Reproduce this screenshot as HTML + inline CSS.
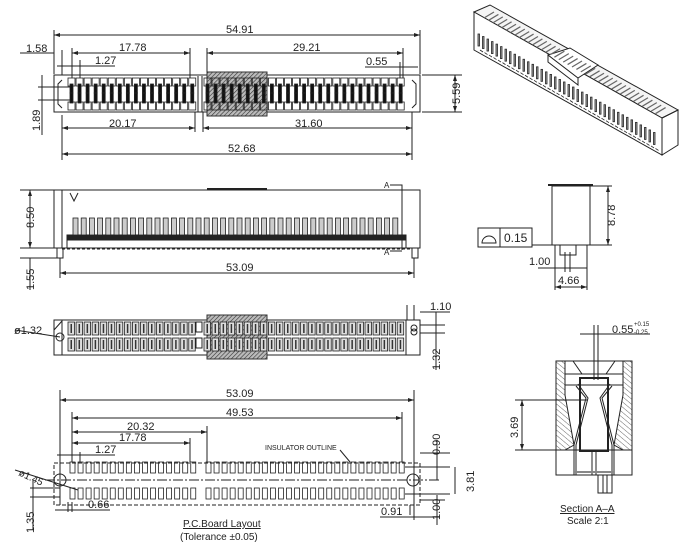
<!DOCTYPE html>
<html><head><meta charset="utf-8"><style>
html,body{margin:0;padding:0;background:#fff}
svg{display:block}
text{font-family:"Liberation Sans",sans-serif;fill:#222}
</style></head><body>
<svg id="s" width="691" height="546" viewBox="0 0 691 546" xmlns="http://www.w3.org/2000/svg">
<defs>
<pattern id="h" width="3" height="3" patternUnits="userSpaceOnUse" patternTransform="rotate(45)"><rect width="3" height="3" fill="#bbb"/><line x1="0" y1="0" x2="0" y2="3" stroke="#333" stroke-width="1.2"/></pattern>
<pattern id="h2" width="4" height="4" patternUnits="userSpaceOnUse" patternTransform="rotate(-50)"><line x1="0" y1="0" x2="0" y2="4" stroke="#444" stroke-width="0.8"/></pattern>
<marker id="a" markerWidth="6" markerHeight="4" refX="6" refY="2" orient="auto-start-reverse"><path d="M0,0 L6,2 L0,4z" fill="#222"/></marker>
</defs>
<g id="g" stroke="#222" fill="none" stroke-width="1" font-size="11">

<!-- TOP VIEW -->
<rect x="54" y="75" width="366" height="37"/>
<path d="M62,80 L58,84 L58,104 L62,108 M412,80 L416,84 L416,104 L412,108"/>
<rect x="207" y="72" width="60" height="44" fill="url(#h)" stroke="#333"/>
<line x1="198" y1="76" x2="198" y2="112"/><line x1="202" y1="76" x2="202" y2="112"/>

<line x1="54" y1="35" x2="420" y2="35" marker-start="url(#a)" marker-end="url(#a)"/>
<line x1="54" y1="30" x2="54" y2="74"/><line x1="420" y1="30" x2="420" y2="74"/>
<line x1="62" y1="50" x2="62" y2="75"/><line x1="72" y1="48" x2="72" y2="78"/><line x1="80" y1="60" x2="80" y2="78"/>
<line x1="72" y1="53" x2="190" y2="53" marker-start="url(#a)" marker-end="url(#a)"/>
<line x1="190" y1="48" x2="190" y2="78"/>
<line x1="207" y1="53" x2="403" y2="53" marker-start="url(#a)" marker-end="url(#a)"/>
<line x1="207" y1="48" x2="207" y2="72"/><line x1="403" y1="48" x2="403" y2="78"/><line x1="400" y1="62" x2="400" y2="78"/>
<line x1="20" y1="53" x2="54" y2="53"/><line x1="57" y1="66" x2="115" y2="66"/>
<line x1="365" y1="67" x2="418" y2="67"/>
<line x1="422" y1="75" x2="462" y2="75"/><line x1="422" y1="112" x2="462" y2="112"/>
<line x1="455" y1="75" x2="455" y2="112" marker-start="url(#a)" marker-end="url(#a)"/>
<line x1="38" y1="87" x2="70" y2="87"/><line x1="38" y1="100" x2="70" y2="100"/>
<line x1="42" y1="75" x2="42" y2="135"/>
<line x1="62" y1="115" x2="62" y2="160"/><line x1="412" y1="112" x2="412" y2="160"/>
<line x1="195" y1="112" x2="195" y2="132"/><line x1="203" y1="112" x2="203" y2="132"/>
<line x1="62" y1="128" x2="195" y2="128" marker-start="url(#a)" marker-end="url(#a)"/>
<line x1="203" y1="128" x2="412" y2="128" marker-start="url(#a)" marker-end="url(#a)"/>
<line x1="62" y1="154" x2="412" y2="154" marker-start="url(#a)" marker-end="url(#a)"/>
<g stroke="none">
<text x="226" y="33">54.91</text><text x="26" y="52">1.58</text><text x="119" y="51">17.78</text>
<text x="293" y="51">29.21</text><text x="95" y="64">1.27</text><text x="366" y="65">0.55</text>
<text x="109" y="127">20.17</text><text x="295" y="127">31.60</text><text x="228" y="152">52.68</text>
<text transform="translate(460,104) rotate(-90)">5.59</text><text transform="translate(40,131) rotate(-90)">1.89</text>
</g>

<!-- SIDE VIEW -->
<rect x="54" y="190" width="366" height="58"/>
<line x1="62" y1="190" x2="62" y2="248"/>
<line x1="207" y1="189" x2="267" y2="189" stroke-width="2"/>
<path d="M70,193 L74,201 L78,193"/>
<rect x="67" y="235" width="339" height="5" fill="#222"/>
<line x1="406" y1="240" x2="406" y2="248"/><line x1="67" y1="240" x2="67" y2="248"/>
<line x1="62" y1="249" x2="410" y2="249" stroke-dasharray="3,2"/>
<rect x="57" y="248" width="6" height="10"/><rect x="412" y="248" width="6" height="10"/>
<path d="M390,185 L402,185 L402,250 M390,251 L402,251" />
<line x1="20" y1="190" x2="54" y2="190"/><line x1="20" y1="248" x2="54" y2="248"/>
<line x1="20" y1="258" x2="57" y2="258"/>
<line x1="30" y1="190" x2="30" y2="248" marker-start="url(#a)" marker-end="url(#a)"/>
<line x1="30" y1="258" x2="30" y2="290"/>
<line x1="60" y1="258" x2="60" y2="278"/><line x1="414" y1="258" x2="414" y2="278"/>
<line x1="60" y1="273" x2="414" y2="273" marker-start="url(#a)" marker-end="url(#a)"/>
<g stroke="none" font-size="8"><text x="384" y="188">A</text><text x="384" y="255">A</text></g>
<g stroke="none"><text x="226" y="271">53.09</text>
<text transform="translate(34,228) rotate(-90)">8.50</text><text transform="translate(34,290) rotate(-90)">1.55</text></g>

<!-- BOTTOM VIEW -->
<rect x="54" y="320" width="366" height="35"/>
<rect x="207" y="315" width="60" height="44" fill="url(#h)" stroke="#333"/>
<path d="M54,330 L62,321 M406,320 L406,355 M62,320 L62,355"/>
<circle cx="60" cy="337" r="4"/><circle cx="414" cy="328" r="3"/><circle cx="414" cy="332" r="3"/>
<rect x="196" y="322" width="6" height="10"/><rect x="196" y="338" width="6" height="10"/>
<line x1="420" y1="312" x2="450" y2="312"/><line x1="420" y1="325" x2="445" y2="325"/><line x1="420" y1="333" x2="445" y2="333"/>
<line x1="407" y1="305" x2="407" y2="320"/><line x1="414" y1="305" x2="414" y2="320"/>
<line x1="436" y1="312" x2="436" y2="370"/>
<line x1="15" y1="330" x2="60" y2="337"/>
<g stroke="none"><text x="430" y="310">1.10</text><text x="14" y="334">ø1.32</text>
<text transform="translate(440,370) rotate(-90)">1.32</text></g>

<!-- PCB -->
<rect x="54" y="463" width="366" height="42" stroke-dasharray="4,2"/>
<line x1="45" y1="480" x2="440" y2="480" stroke-dasharray="10,2,2,2"/>
<circle cx="60" cy="480" r="6"/><circle cx="413" cy="480" r="6"/>
<line x1="60" y1="390" x2="60" y2="505"/><line x1="414" y1="390" x2="414" y2="520"/>
<line x1="60" y1="400" x2="414" y2="400" marker-start="url(#a)" marker-end="url(#a)"/>
<line x1="72" y1="412" x2="72" y2="462"/><line x1="402" y1="412" x2="402" y2="462"/>
<line x1="72" y1="418" x2="402" y2="418" marker-start="url(#a)" marker-end="url(#a)"/>
<line x1="207" y1="426" x2="207" y2="462"/><line x1="190" y1="438" x2="190" y2="462"/><line x1="80" y1="452" x2="80" y2="462"/>
<line x1="72" y1="432" x2="207" y2="432" marker-start="url(#a)" marker-end="url(#a)"/>
<line x1="72" y1="443" x2="190" y2="443" marker-start="url(#a)" marker-end="url(#a)"/>
<line x1="57" y1="455" x2="115" y2="455"/>
<line x1="340" y1="450" x2="350" y2="462"/>
<line x1="405" y1="467" x2="450" y2="467"/><line x1="405" y1="494" x2="450" y2="494"/>
<line x1="420" y1="453" x2="450" y2="453"/>
<line x1="437" y1="440" x2="437" y2="480"/><line x1="455" y1="467" x2="455" y2="494"/>
<line x1="420" y1="500" x2="445" y2="500"/><line x1="437" y1="495" x2="437" y2="525"/>
<line x1="410" y1="505" x2="410" y2="515"/><line x1="380" y1="517" x2="440" y2="517"/>
<line x1="68" y1="502" x2="68" y2="512"/><line x1="72" y1="502" x2="72" y2="512"/><line x1="55" y1="510" x2="110" y2="510"/>
<line x1="30" y1="488" x2="60" y2="488"/><line x1="30" y1="497" x2="60" y2="497"/><line x1="33" y1="480" x2="33" y2="530"/>
<line x1="15" y1="470" x2="78" y2="490"/>
<g stroke="none"><text x="226" y="397">53.09</text><text x="226" y="416">49.53</text>
<text x="127" y="430">20.32</text><text x="119" y="441">17.78</text><text x="95" y="453">1.27</text>
<text x="88" y="508">0.66</text><text x="381" y="515">0.91</text>
<text x="265" y="450" font-size="7">INSULATOR OUTLINE</text>
<text transform="translate(18,475) rotate(25)" font-size="10">ø1.45</text>
<text transform="translate(440,455) rotate(-90)">0.90</text><text transform="translate(474,492) rotate(-90)">3.81</text>
<text transform="translate(440,520) rotate(-90)">1.00</text><text transform="translate(34,533) rotate(-90)">1.35</text>
<text x="183" y="527" text-decoration="underline" font-size="10">P.C.Board  Layout</text>
<text x="180" y="540" font-size="10">(Tolerance  ±0.05)</text></g>

<!-- END VIEW -->
<line x1="548" y1="185" x2="593" y2="185" stroke-width="2"/>
<rect x="552" y="186" width="38" height="59"/>
<rect x="560" y="245" width="16" height="10"/>
<line x1="565" y1="252" x2="565" y2="272"/><line x1="570" y1="252" x2="570" y2="272"/>
<line x1="555" y1="245" x2="555" y2="290"/><line x1="587" y1="245" x2="587" y2="290"/>
<line x1="538" y1="268" x2="587" y2="268"/><line x1="555" y1="287" x2="587" y2="287" marker-start="url(#a)" marker-end="url(#a)"/>
<line x1="590" y1="186" x2="612" y2="186"/><line x1="590" y1="245" x2="612" y2="245"/>
<line x1="608" y1="186" x2="608" y2="245" marker-start="url(#a)" marker-end="url(#a)"/>
<rect x="478" y="228" width="54" height="19"/><line x1="500" y1="228" x2="500" y2="247"/><line x1="532" y1="245" x2="552" y2="245"/>
<path d="M482,243 A7,7 0 0 1 496,243 Z"/>
<g stroke="none"><text x="504" y="242" font-size="12">0.15</text><text x="529" y="265">1.00</text><text x="558" y="284">4.66</text>
<text transform="translate(615,226) rotate(-90)">8.78</text></g>

<!-- SECTION -->
<rect x="556" y="361" width="76" height="114"/>
<path d="M556,361 L565,361 L565,395 L574,445 L565,450 L556,450 Z" fill="url(#h2)"/>
<path d="M632,361 L623,361 L623,395 L614,445 L623,450 L632,450 Z" fill="url(#h2)"/>
<path d="M573,361 L582,374 L606,374 L615,361 M565,374 L623,374 M565,385 L623,385"/>
<rect x="580" y="378" width="28" height="73" stroke-width="2"/>
<path d="M576,386 L586,398 L574,445 L574,475 M578,384 L588,398 L576,445 L576,475"/>
<path d="M612,386 L602,398 L614,445 L614,475 M610,384 L600,398 L612,445 L612,475"/>
<line x1="556" y1="450" x2="632" y2="450"/>
<line x1="592" y1="451" x2="592" y2="475"/><line x1="596" y1="451" x2="596" y2="475"/>
<line x1="574" y1="472" x2="614" y2="472" stroke="#888" stroke-width="2"/>
<rect x="598" y="475" width="14" height="18"/><line x1="603" y1="475" x2="603" y2="493"/><line x1="607" y1="475" x2="607" y2="493"/>
<line x1="594" y1="325" x2="594" y2="380"/><line x1="598" y1="325" x2="598" y2="380"/>
<line x1="580" y1="334" x2="650" y2="334"/>
<line x1="515" y1="400" x2="588" y2="400"/><line x1="515" y1="450" x2="580" y2="450"/>
<line x1="522" y1="400" x2="522" y2="450" marker-start="url(#a)" marker-end="url(#a)"/>
<g stroke="none"><text x="612" y="333">0.55</text><text x="634" y="326" font-size="6">+0.15</text><text x="634" y="334" font-size="6">-0.25</text>
<text transform="translate(518,438) rotate(-90)">3.69</text>
<text x="560" y="512" font-size="10" text-decoration="underline">Section  A–A</text><text x="567" y="524" font-size="10">Scale  2:1</text></g>

<!-- 3D -->
<path d="M474,12 L490,5 L678,110 L662,118 Z" fill="#f4f4f4"/>
<path d="M474,12 L662,118 L662,155 L474,50 Z" fill="#fff"/>
<path d="M662,118 L678,110 L678,145 L662,155 Z"/>
<path d="M548,55 L570,48 L598,65 L578,78 Z" fill="#fff"/>
<path d="M548,55 L548,62 L578,85 L578,78"/>
</g>
<g id="dyn" stroke="#222" fill="none" stroke-width="0.8"></g>
</svg>
<script>
var d=document.getElementById('dyn'),o='';
function xs(){var a=[];for(var i=0;i<16;i++)a.push(68+i*8.05);for(var i=0;i<25;i++)a.push(204+i*8.05);return a;}
var X=xs();
X.forEach(function(x){
 o+='<rect x="'+x+'" y="78" width="7" height="8"/><rect x="'+(x+2)+'" y="84" width="3" height="9" fill="#111"/>';
 o+='<rect x="'+x+'" y="102" width="7" height="8"/><rect x="'+(x+2)+'" y="93" width="3" height="10" fill="#111"/>';
 o+='<rect x="'+x+'" y="322" width="6.5" height="13" fill="#ddd"/><rect x="'+(x+2.5)+'" y="324" width="1.5" height="9" fill="#333" stroke="none"/>';
 o+='<rect x="'+x+'" y="338" width="6.5" height="13" fill="#ddd"/><rect x="'+(x+2.5)+'" y="340" width="1.5" height="9" fill="#333" stroke="none"/>';
 o+='<rect x="'+(x+2)+'" y="462" width="5" height="11"/><rect x="'+(x+2)+'" y="488" width="5" height="11"/>';
});
for(var i=0;i<40;i++){var x=73+i*8.2;o+='<rect x="'+x+'" y="218" width="5" height="17" fill="#ccc"/>';}
for(var i=0;i<40;i++){var t=i/40;var x=478+t*180,y=34+t*101;o+='<rect x="'+x+'" y="'+y+'" width="1.5" height="12" fill="#aaa"/>';
 var xt=494+t*176,yt=12+t*98;o+='<line x1="'+xt+'" y1="'+yt+'" x2="'+(xt-10)+'" y2="'+(yt+6)+'" stroke="#666" stroke-width="1.2"/>';
 o+='<line x1="'+(x+2)+'" y1="'+(y+16)+'" x2="'+(x+5)+'" y2="'+(y+18)+'"/>';}
d.innerHTML=o;
</script>
</body></html>
